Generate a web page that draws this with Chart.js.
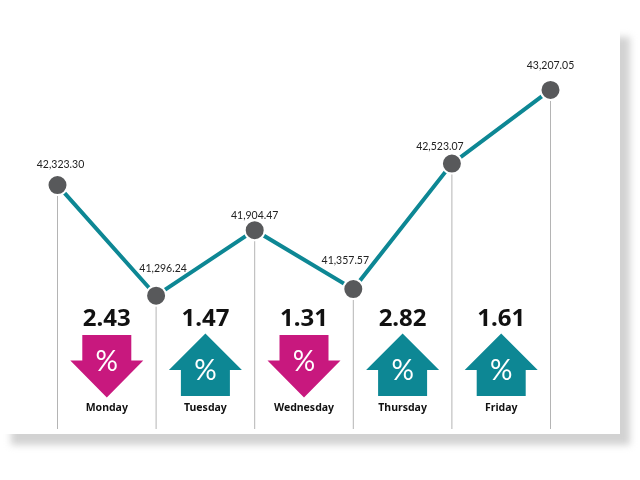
<!DOCTYPE html>
<html>
<head>
<meta charset="utf-8">
<script src="https://cdn.jsdelivr.net/npm/chart.js@4/dist/chart.umd.min.js"></script>
<style>
  html, body { margin: 0; padding: 0; background: #fff; }
  #wrap { position: relative; width: 640px; height: 480px; overflow: hidden; background: #fff; }
  #shadow { position: absolute; left: 11px; top: 37px; width: 619px; height: 408px; background: #d2d2d2; filter: blur(3.5px); }
  #panel { position: absolute; left: 0; top: 0; width: 620px; height: 434px; background: #fff; }
  canvas { position: absolute; left: 0; top: 0; }
</style>
</head>
<body>
<div id="wrap">
  <div id="shadow"></div>
  <div id="panel"></div>
  <canvas id="chart" width="640" height="480"></canvas>
</div>
<script>
const closes = [42323.30, 41296.24, 41904.47, 41357.57, 42523.07, 43207.05];
const closeLabels = ['42,323.30', '41,296.24', '41,904.47', '41,357.57', '42,523.07', '43,207.05'];
const days = ['Monday', 'Tuesday', 'Wednesday', 'Thursday', 'Friday'];
const changes = ['2.43', '1.47', '1.31', '2.82', '1.61'];
const directions = ['down', 'up', 'down', 'up', 'up'];

const TEAL = '#0d8794';
const MAGENTA = '#c8187e';
const GREY = '#58595b';

// label offsets from each point
const labelOffsets = [[3, -20], [7, -27], [0, -15], [-8, -28], [-12, -17], [0, -24]];

function drawArrow(ctx, cx, dir) {
    ctx.fillStyle = dir === 'up' ? TEAL : MAGENTA;
    ctx.beginPath();
    if (dir === 'up') {
        ctx.moveTo(cx, 333.5);
        ctx.lineTo(cx + 36.5, 370);
        ctx.lineTo(cx + 24.5, 370);
        ctx.lineTo(cx + 24.5, 396);
        ctx.lineTo(cx - 24.5, 396);
        ctx.lineTo(cx - 24.5, 370);
        ctx.lineTo(cx - 36.5, 370);
    } else {
        ctx.moveTo(cx - 24.5, 335);
        ctx.lineTo(cx + 24.5, 335);
        ctx.lineTo(cx + 24.5, 360.5);
        ctx.lineTo(cx + 36.5, 360.5);
        ctx.lineTo(cx, 397.5);
        ctx.lineTo(cx - 36.5, 360.5);
        ctx.lineTo(cx - 24.5, 360.5);
    }
    ctx.closePath();
    ctx.fill();

    ctx.fillStyle = '#fff';
    ctx.font = '400 28px Lato';
    ctx.fillText('%', cx, dir === 'up' ? 371 : 362);
}

// drop lines under the points
const dropLines = {
    id: 'dropLines',
    beforeDatasetsDraw(chart) {
        const ctx = chart.ctx;
        const meta = chart.getDatasetMeta(0);
        ctx.save();
        ctx.strokeStyle = '#b4b4b4';
        ctx.lineWidth = 1;
        meta.data.forEach(pt => {
            ctx.beginPath();
            ctx.moveTo(pt.x, pt.y);
            ctx.lineTo(pt.x, 429);
            ctx.stroke();
        });
        ctx.restore();
    }
};

// value labels, day columns and arrows
const annotations = {
    id: 'annotations',
    afterDatasetsDraw(chart) {
        const ctx = chart.ctx;
        const xScale = chart.scales.x;
        const meta = chart.getDatasetMeta(0);
        ctx.save();
        ctx.textAlign = 'center';
        ctx.textBaseline = 'middle';

        ctx.fillStyle = '#222';
        ctx.font = '10.5px Lato';
        meta.data.forEach((pt, i) => {
            ctx.fillText(closeLabels[i], pt.x + labelOffsets[i][0], pt.y + labelOffsets[i][1]);
        });

        days.forEach((day, i) => {
            const cx = xScale.getPixelForValue(i + 0.5);
            ctx.fillStyle = '#111';
            ctx.font = 'bold 24px "Noto Sans"';
            ctx.fillText(changes[i], cx, 319);
            ctx.font = 'bold 10.5px "Noto Sans"';
            ctx.fillText(day, cx, 408);
            drawArrow(ctx, cx, directions[i]);
        });
        ctx.restore();
    }
};

new Chart(document.getElementById('chart').getContext('2d'), {
    type: 'line',
    data: {
        labels: closeLabels,
        datasets: [{
            data: closes,
            borderColor: TEAL,
            borderWidth: 4,
            tension: 0,
            pointRadius: 10,
            pointBackgroundColor: GREY,
            pointBorderColor: '#fff',
            pointBorderWidth: 2,
            clip: false
        }]
    },
    options: {
        responsive: false,
        animation: false,
        devicePixelRatio: 1,
        layout: { autoPadding: false, padding: { left: 57.5, right: 89.5, top: 0, bottom: 0 } },
        plugins: { legend: { display: false }, tooltip: { enabled: false } },
        scales: {
            x: { display: false, offset: false },
            y: { display: false, min: 39585, max: 44042 }
        }
    },
    plugins: [dropLines, annotations]
});
</script>
</body>
</html>
